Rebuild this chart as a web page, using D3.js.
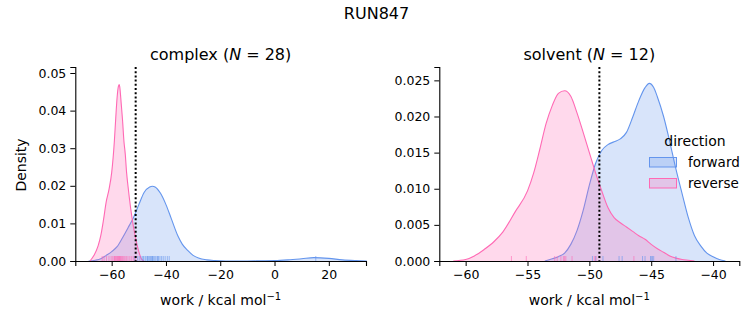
<!DOCTYPE html>
<html>
<head>
<meta charset="utf-8">
<script src="https://cdn.jsdelivr.net/npm/d3@7"></script>
<style>
  body { margin: 0; background: #fff; }
  svg { font-family: "DejaVu Sans", sans-serif; }
</style>
</head>
<body>
<svg id="chart" width="753" height="325"></svg>
<script>
// complex panel, KDE curves
var complexFwdX = [-68.5, -66, -64, -62, -60, -58, -56, -54, -52, -50, -48, -46, -45, -44, -42, -40, -38, -35.5, -34, -32, -30, -28, -25, -22, -18, -10, -5, 0, 5, 10, 14.5, 20, 25, 30, 34];
var complexFwdD = [0, 0.0002, 0.0006, 0.0015, 0.0025, 0.0038, 0.0062, 0.0088, 0.0115, 0.0150, 0.0183, 0.0197, 0.0199, 0.0197, 0.0180, 0.0150, 0.0112, 0.0065, 0.0045, 0.0028, 0.0015, 0.0008, 0.0003, 0.0001, 0, 0, 0.00005, 0.0001, 0.0003, 0.0006, 0.0009, 0.0007, 0.0003, 0.0001, 0];
var complexRevX = [-68, -66.5, -65, -64, -63, -62, -61, -60, -59, -58.5, -58, -57.5, -57.2, -57, -56.5, -56, -55.5, -55, -54.5, -54, -53, -52, -51, -50, -49, -48];
var complexRevD = [0, 0.0015, 0.004, 0.0068, 0.011, 0.0158, 0.019, 0.0235, 0.032, 0.038, 0.0435, 0.0465, 0.0469, 0.0462, 0.042, 0.0375, 0.032, 0.0285, 0.0235, 0.0200, 0.0140, 0.0092, 0.0055, 0.0025, 0.0005, 0];
var complexFwdRug = [-51.5, -50.4, -49.6, -48.8, -48.4, -48.1, -47.5, -47.0, -46.8, -46.5, -46.1, -45.7, -45.3, -45.0, -44.9, -44.5, -44.1, -43.7, -43.2, -43.0, -42.7, -42.2, -41.6, -41.0, -40.3, -39.5, -38.8, 15.2];
var complexRevRug = [-63.5, -62.8, -61.9, -61.0, -60.2, -59.6, -59.1, -58.9, -58.7, -58.4, -58.1, -57.9, -57.6, -57.4, -57.2, -57.0, -56.8, -56.5, -56.2, -55.9, -55.5, -55.1, -54.6, -54.0, -53.3, -52.6, -51.9, -51.2];
var complexLine = -51.16;

// solvent panel
var solventFwdX = [-53.6, -53, -52.5, -52, -51.5, -51, -50.5, -50, -49.5, -49, -48.5, -48, -47.5, -47, -46.5, -46, -45.5, -45.15, -44.8, -44.5, -44, -43.5, -43, -42.5, -42, -41.5, -41, -40.5, -40, -39.5, -39];
var solventFwdD = [0, 0.0003, 0.0006, 0.0011, 0.0023, 0.0042, 0.0070, 0.0105, 0.0135, 0.0153, 0.0161, 0.0165, 0.0169, 0.0178, 0.0199, 0.0222, 0.0240, 0.02458, 0.0240, 0.0227, 0.0200, 0.0165, 0.0127, 0.0093, 0.0060, 0.0035, 0.0021, 0.0011, 0.0006, 0.0002, 0];
var solventRevX = [-61, -60, -59.3, -58.5, -57.7, -57, -56, -55, -54.5, -54, -53.5, -53, -52.5, -52, -51.5, -51, -50.5, -50, -49.5, -49, -48.5, -48, -47.5, -47, -46.5, -46, -45.5, -45, -44.5, -44, -43.5, -43, -42.5, -42, -41.5];
var solventRevD = [0, 0.0002, 0.0007, 0.0016, 0.0027, 0.0040, 0.0068, 0.0097, 0.0122, 0.0155, 0.0190, 0.0215, 0.0232, 0.02356, 0.0228, 0.0205, 0.0178, 0.0150, 0.0122, 0.0097, 0.0074, 0.0060, 0.0053, 0.0047, 0.0041, 0.0035, 0.0030, 0.0023, 0.0017, 0.0012, 0.0007, 0.0004, 0.0002, 0.0001, 0];
var solventFwdRug = [-49.75, -49.5, -48.9, -47.6, -47.35, -45.7, -45.5, -45.05, -45.0, -44.9, -44.8, -43.0];
var solventRevRug = [-56.3, -55.1, -52.8, -52.6, -52.3, -52.1, -52.0, -51.9, -51.4, -49.6, -49.45, -46.4];
var solventLine = -49.19;

var directions = ["forward", "reverse"];
var colors = { forward: "#6495ED", reverse: "#FF69B4" };

var svg = d3.select("#chart");

svg.append("text")
  .attr("x", 376.5).attr("y", 19)
  .attr("text-anchor", "middle")
  .style("font-size", "16px")
  .text("RUN847");

function pack(xs, ds) {
  return xs.map(function (x, i) { return { x: x, d: ds[i] }; });
}

function drawPanel(opt) {
  var g = svg.append("g");
  var x = d3.scaleLinear().domain(opt.xDomain).range([opt.left, opt.right]);
  var y = d3.scaleLinear().domain(opt.yDomain).range([261, 67]);

  var area = d3.area()
    .x(function (p) { return x(p.x); })
    .y0(y(0))
    .y1(function (p) { return y(p.d); })
    .curve(d3.curveMonotoneX);
  var line = d3.line()
    .x(function (p) { return x(p.x); })
    .y(function (p) { return y(p.d); })
    .curve(d3.curveMonotoneX);

  opt.series.forEach(function (s) {
    var pts = pack(s.xs, s.ds);
    g.append("path").attr("d", area(pts))
      .attr("fill", colors[s.dir]).attr("fill-opacity", 0.25);
    g.append("path").attr("d", line(pts))
      .attr("fill", "none").attr("stroke", colors[s.dir]).attr("stroke-width", 1.1);
  });

  opt.series.forEach(function (s) {
    g.selectAll(null).data(s.rug).enter().append("line")
      .attr("x1", function (v) { return x(v); })
      .attr("x2", function (v) { return x(v); })
      .attr("y1", y(0)).attr("y2", y(0) - 5)
      .attr("stroke", colors[s.dir]).attr("stroke-opacity", 0.6)
      .attr("stroke-width", 1);
  });

  g.append("line")
    .attr("x1", x(opt.vline)).attr("x2", x(opt.vline))
    .attr("y1", 67).attr("y2", 261)
    .attr("stroke", "#000").attr("stroke-width", 2)
    .attr("stroke-dasharray", "2,2.2");

  var xAxis = g.append("g")
    .attr("transform", "translate(0,261)")
    .call(d3.axisBottom(x).tickValues(opt.xTicks).tickSize(5).tickPadding(4)
      .tickFormat(function (v) { return d3.format("d")(v).replace("-", "\u2212"); }));
  var yAxis = g.append("g")
    .attr("transform", "translate(" + opt.left + ",0)")
    .call(d3.axisLeft(y).tickValues(opt.yTicks).tickSize(5).tickPadding(4)
      .tickFormat(d3.format(opt.yFormat)));
  [xAxis, yAxis].forEach(function (a) {
    a.selectAll("text").style("font-size", "12.5px").attr("fill", "#000").style("font-family", "DejaVu Sans");
    a.select(".domain").attr("stroke-width", 1.1);
  });

  g.append("text")
    .attr("x", (opt.left + opt.right) / 2).attr("y", 60)
    .attr("text-anchor", "middle").style("font-size", "16px")
    .html(opt.name + " (<tspan font-style='italic'>N</tspan> = " + opt.n + ")");

  var xl = g.append("text")
    .attr("x", (opt.left + opt.right) / 2).attr("y", 305)
    .attr("text-anchor", "middle").style("font-size", "14px");
  xl.append("tspan").text("work / kcal mol");
  xl.append("tspan").attr("dy", -5).style("font-size", "10px").text("\u22121");
}

drawPanel({
  name: "complex", n: 28, left: 75.3, right: 366,
  xDomain: [-73.4, 33.7], yDomain: [0, 0.0516],
  xTicks: [-60, -40, -20, 0, 20], yTicks: [0, 0.01, 0.02, 0.03, 0.04, 0.05], yFormat: ".2f",
  vline: complexLine,
  series: [
    { dir: "forward", xs: complexFwdX, ds: complexFwdD, rug: complexFwdRug },
    { dir: "reverse", xs: complexRevX, ds: complexRevD, rug: complexRevRug }
  ]
});

drawPanel({
  name: "solvent", n: 12, left: 439.3, right: 739.3,
  xDomain: [-62.13, -37.88], yDomain: [0, 0.02685],
  xTicks: [-60, -55, -50, -45, -40], yTicks: [0, 0.005, 0.01, 0.015, 0.02, 0.025], yFormat: ".3f",
  vline: solventLine,
  series: [
    { dir: "forward", xs: solventFwdX, ds: solventFwdD, rug: solventFwdRug },
    { dir: "reverse", xs: solventRevX, ds: solventRevD, rug: solventRevRug }
  ]
});

svg.append("text")
  .attr("transform", "translate(26,165) rotate(-90)")
  .attr("text-anchor", "middle").style("font-size", "14px")
  .text("Density");

// legend
var leg = svg.append("g").attr("transform", "translate(649,0)");
leg.append("text").attr("x", 46).attr("y", 146)
  .attr("text-anchor", "middle").style("font-size", "14px").text("direction");
directions.forEach(function (dir, i) {
  var yy = 157.5 + i * 21;
  leg.append("rect").attr("x", 0.5).attr("y", yy).attr("width", 27).attr("height", 9.5)
    .attr("fill", colors[dir]).attr("fill-opacity", 0.25)
    .attr("stroke", colors[dir]).attr("stroke-width", 1);
  leg.append("text").attr("x", 39).attr("y", yy + 9.5)
    .style("font-size", "13.5px").text(dir);
});
</script>
</body>
</html>
